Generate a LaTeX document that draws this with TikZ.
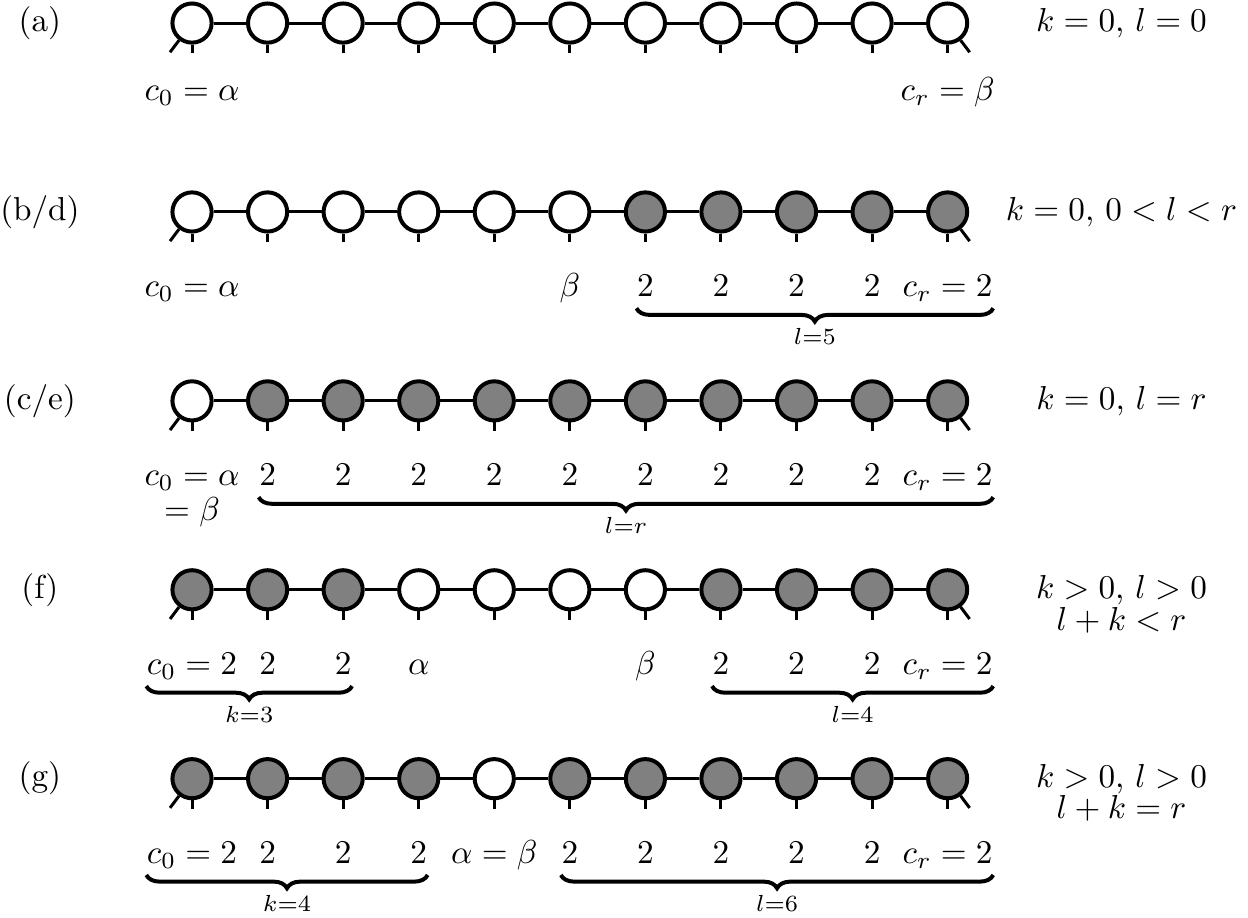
\documentclass[tikz,border=0pt]{standalone}
\usepackage{amsmath,amssymb}
\usepackage{tikz}
\usetikzlibrary{arrows.meta,calc,decorations.pathreplacing,positioning}
\colorlet{occ}{black!50}
\tikzset{
  site/.style={circle,draw,line width=1.2pt,minimum size=11.8pt,inner sep=0pt},
  bond/.style={line width=0.9pt},
  lab/.style={anchor=base,inner sep=0pt},
  brc/.style={decorate,decoration={brace,amplitude=4pt,mirror},line width=1.2pt},
  brlab/.style={midway,below=5.5pt,inner sep=0pt}
}
% one chain of 11 sites: #1 name, #2 height, #3 fills
\newcommand{\chainrow}[3]{%
  \foreach \f [count=\i from 0] in {#3}
    \node[site,fill=\f] (#1\i) at (0.8*\i,#2) {};
  \foreach \i [evaluate=\i as \j using int(\i+1)] in {0,...,9}
    \draw[bond] (#1\i) -- (#1\j);
  \foreach \i in {0,...,10}
    \draw[bond] (#1\i.south) -- ++(0,-2.6pt);
  \draw[bond] (#10.233) -- ++(233:4.5pt);
  \draw[bond] (#110.307) -- ++(307:4.5pt);
}

\begin{document}
\begin{tikzpicture}[>=Stealth]
  \useasboundingbox (-2.033,0.244) rectangle (11.18,-9.465);
  % (a)
  \node (ta) at (-1.61,0) {(a)};
  \chainrow{a}{0}{white,white,white,white,white,white,white,white,white,white,white}
  \node[lab] (la0) at ([yshift=-0.82cm]a0.center) {$c_0=\alpha$};
  \node[lab] (la10) at ([yshift=-0.82cm]a10.center) {$c_r=\beta$};
  \node (ca) at (9.84,0) {$k=0$, $l=0$};
  % (b/d)
  \node (tb) at (-1.61,-2) {(b/d)};
  \chainrow{b}{-2}{white,white,white,white,white,white,occ,occ,occ,occ,occ}
  \node[lab] (lb0) at ([yshift=-0.9cm]b0.center) {$c_0=\alpha$};
  \node[lab] (lb5) at ([yshift=-0.9cm]b5.center) {$\beta$};
  \foreach \i in {6,...,9}
    \node[lab] (lb\i) at ([yshift=-0.9cm]b\i.center) {$2$};
  \node[lab] (lb10) at ([yshift=-0.9cm]b10.center) {$c_r=2$};
  \draw[brc] ([yshift=-3.4pt]lb6.base west) -- ([yshift=-3.4pt]lb10.base east)
    node[brlab] {$\scriptstyle l=5$};
  \node (cb) at (9.84,-2) {$k=0$, $0<l<r$};
  % (c/e)
  \node (tc) at (-1.61,-4) {(c/e)};
  \chainrow{c}{-4}{white,occ,occ,occ,occ,occ,occ,occ,occ,occ,occ}
  \node[lab] (lc0) at ([yshift=-0.9cm]c0.center) {$c_0=\alpha$};
  \node[lab] (lc0b) at ([yshift=-1.27cm]c0.center) {$=\beta$};
  \foreach \i in {1,...,9}
    \node[lab] (lc\i) at ([yshift=-0.9cm]c\i.center) {$2$};
  \node[lab] (lc10) at ([yshift=-0.9cm]c10.center) {$c_r=2$};
  \draw[brc] ([yshift=-3.4pt]lc1.base west) -- ([yshift=-3.4pt]lc10.base east)
    node[brlab] {$\scriptstyle l=r$};
  \node (cc) at (9.84,-4) {$k=0$, $l=r$};
  % (f)
  \node (tf) at (-1.61,-6) {(f)};
  \chainrow{f}{-6}{occ,occ,occ,white,white,white,white,occ,occ,occ,occ}
  \node[lab] (lf0) at ([yshift=-0.9cm]f0.center) {$c_0=2$};
  \foreach \i in {1,2,7,8,9}
    \node[lab] (lf\i) at ([yshift=-0.9cm]f\i.center) {$2$};
  \node[lab] (lf3) at ([yshift=-0.9cm]f3.center) {$\alpha$};
  \node[lab] (lf6) at ([yshift=-0.9cm]f6.center) {$\beta$};
  \node[lab] (lf10) at ([yshift=-0.9cm]f10.center) {$c_r=2$};
  \draw[brc] ([yshift=-3.4pt]lf0.base west) -- ([yshift=-3.4pt]lf2.base east)
    node[brlab] {$\scriptstyle k=3$};
  \draw[brc] ([yshift=-3.4pt]lf7.base west) -- ([yshift=-3.4pt]lf10.base east)
    node[brlab] {$\scriptstyle l=4$};
  \node[align=center] (cf) at (9.84,-6.15) {$k>0$, $l>0$\\[-2.4pt]$l+k<r$};
  % (g)
  \node (tg) at (-1.61,-8) {(g)};
  \chainrow{g}{-8}{occ,occ,occ,occ,white,occ,occ,occ,occ,occ,occ}
  \node[lab] (lg0) at ([yshift=-0.9cm]g0.center) {$c_0=2$};
  \foreach \i in {1,2,3,5,6,7,8,9}
    \node[lab] (lg\i) at ([yshift=-0.9cm]g\i.center) {$2$};
  \node[lab] (lg4) at ([yshift=-0.9cm]g4.center) {$\alpha=\beta$};
  \node[lab] (lg10) at ([yshift=-0.9cm]g10.center) {$c_r=2$};
  \draw[brc] ([yshift=-3.4pt]lg0.base west) -- ([yshift=-3.4pt]lg3.base east)
    node[brlab] {$\scriptstyle k=4$};
  \draw[brc] ([yshift=-3.4pt]lg5.base west) -- ([yshift=-3.4pt]lg10.base east)
    node[brlab] {$\scriptstyle l=6$};
  \node[align=center] (cg) at (9.84,-8.15) {$k>0$, $l>0$\\[-2.4pt]$l+k=r$};
\end{tikzpicture}
\end{document}
